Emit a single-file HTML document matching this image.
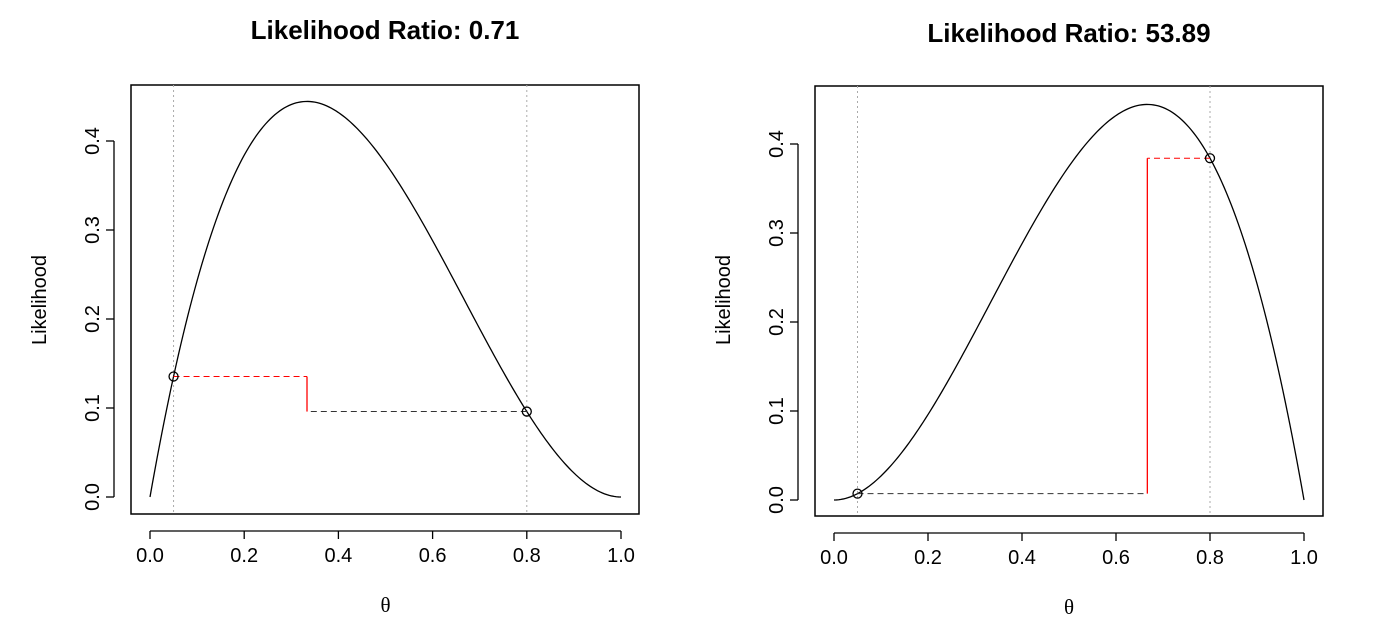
<!DOCTYPE html>
<html><head><meta charset="utf-8"><style>
body{margin:0;background:#fff;}
svg{display:block;font-family:"Liberation Sans",sans-serif;}
</style></head><body>
<svg id="c" width="1375" height="625"></svg>
<script>
const xTicks=[0,0.2,0.4,0.6,0.8,1.0];
const yTicks=[0,0.1,0.2,0.3,0.4];
const titles=["Likelihood Ratio: 0.71","Likelihood Ratio: 53.89"];
const successes=[1,2];
const trials=[3,3];
const theta1=[0.05,0.05];
const theta2=[0.8,0.8];
const NS="http://www.w3.org/2000/svg";
const svg=document.getElementById('c');
function mk(tag,attrs,parent){const e=document.createElementNS(NS,tag);for(const k in attrs)e.setAttribute(k,attrs[k]);(parent||svg).appendChild(e);return e;}
const panels=[
 {bx0:131,bx1:639,by0:85,by1:514,x0:150,x1:621,y0:497,y4:141,tx:385,ty:39,ylx:46},
 {bx0:815,bx1:1323,by0:86,by1:516,x0:834,x1:1304,y0:500,y4:144,tx:1069,ty:42,ylx:730}
];
function lik(t,k,n){return 3*Math.pow(t,k)*Math.pow(1-t,n-k);}
panels.forEach((p,i)=>{
 const g=mk('g',{});
 
 
 const X=v=>p.x0+(p.x1-p.x0)*v;
 const Y=v=>p.y0+(p.y4-p.y0)*v/0.4;
 const t=mk('text',{x:p.tx,y:p.ty,'text-anchor':'middle','font-size':26,'font-weight':'bold'},g);
 t.textContent=titles[i];
 
 
 const box=mk('rect',{x:p.bx0,y:p.by0,width:p.bx1-p.bx0,height:p.by1-p.by0,fill:'none',stroke:'#000','stroke-width':1.5},g);
 
 
 mk('line',{x1:X(0),x2:X(1),y1:p.by1+17,y2:p.by1+17,stroke:'#000','stroke-width':1.3},g);
 xTicks.forEach(v=>{
  mk('line',{x1:X(v),x2:X(v),y1:p.by1+17,y2:p.by1+25,stroke:'#000','stroke-width':1.3},g);
  const l=mk('text',{x:X(v),y:p.by1+48,'text-anchor':'middle','font-size':20},g);
  l.textContent=v.toFixed(1);
  
  
 });
 mk('line',{x1:p.bx0-17,x2:p.bx0-17,y1:Y(0),y2:Y(0.4),stroke:'#000','stroke-width':1.3},g);
 yTicks.forEach(v=>{
  mk('line',{x1:p.bx0-25,x2:p.bx0-17,y1:Y(v),y2:Y(v),stroke:'#000','stroke-width':1.3},g);
  const yy=Y(v);const xx=p.bx0-32;
  const l=mk('text',{x:xx,y:yy,'text-anchor':'middle','font-size':20,transform:`rotate(-90 ${xx} ${yy})`},g);
  l.textContent=v.toFixed(1);
  
  
 });
 const yl=mk('text',{x:p.ylx,y:300,'text-anchor':'middle','font-size':20,transform:`rotate(-90 ${p.ylx} 300)`},g);
 yl.textContent='Likelihood';
 
 
 const xl=mk('text',{x:(X(0)+X(1))/2,y:p.by1+98,'text-anchor':'middle','font-size':21,'font-family':'Liberation Serif, serif'},g);
 xl.textContent='θ';
 
 
 [theta1[i],theta2[i]].forEach(v=>{
  const l=mk('line',{x1:X(v),x2:X(v),y1:p.by0,y2:p.by1,stroke:'#aaa','stroke-dasharray':'2,3'},g);
  
  
 });
 const k=successes[i],n=trials[i];
 let d='';
 for(let j=0;j<=200;j++){const v=j/200;d+=(j?'L':'M')+X(v).toFixed(2)+','+Y(lik(v,k,n)).toFixed(2);}
 const c=mk('path',{d:d,fill:'none',stroke:'#000','stroke-width':1.3},g);
 
 
 const L1=lik(theta1[i],k,n),L2=lik(theta2[i],k,n),mle=k/n;
 const hi=L1>L2?theta1[i]:theta2[i], lo=L1>L2?theta2[i]:theta1[i];
 const Lhi=Math.max(L1,L2),Llo=Math.min(L1,L2);
 const a=mk('line',{x1:X(hi),x2:X(mle),y1:Y(Lhi),y2:Y(Lhi),stroke:'red','stroke-dasharray':'6,4'},g);
 
 
 const b=mk('line',{x1:X(lo),x2:X(mle),y1:Y(Llo),y2:Y(Llo),stroke:'#333','stroke-dasharray':'6,4'},g);
 
 
 const v=mk('line',{x1:X(mle),x2:X(mle),y1:Y(Lhi),y2:Y(Llo),stroke:'red','stroke-width':1.3},g);
 
 
 [[theta1[i],L1],[theta2[i],L2]].forEach(q=>{
  const pt=mk('circle',{cx:X(q[0]),cy:Y(q[1]),r:4.5,fill:'none',stroke:'#000','stroke-width':1.3},g);
  
  
 });
});
</script>
</body></html>
